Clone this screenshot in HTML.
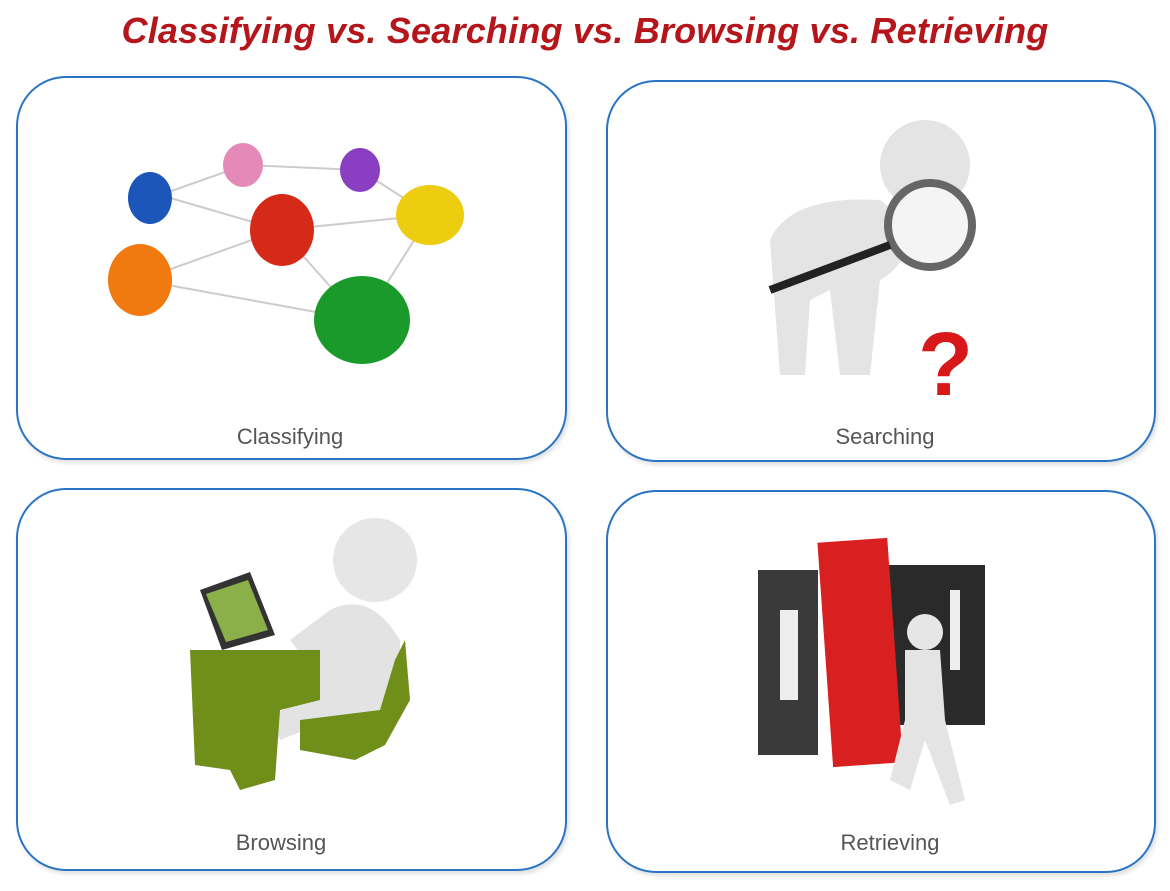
<!DOCTYPE html>
<html><head><meta charset="utf-8"><style>
html,body{margin:0;padding:0;background:#fff;width:1170px;height:891px;overflow:hidden;position:relative;font-family:"Liberation Sans",sans-serif}
.t{position:absolute;left:0;width:1170px;top:10px;text-align:center;color:#b5161b;font-weight:bold;font-style:italic;font-size:36px;letter-spacing:0.2px}
.b{position:absolute;border:2px solid #2a74c4;border-radius:50px;box-sizing:border-box;box-shadow:2px 3px 4px rgba(0,0,0,0.12)}
.l{position:absolute;font-size:22px;color:#555;transform:translateX(-50%);white-space:nowrap}
svg{position:absolute}
</style></head><body>
<div class="t">Classifying vs. Searching vs. Browsing vs. Retrieving</div>
<div class="b" style="left:16px;top:76px;width:551px;height:384px"></div>
<div class="b" style="left:606px;top:80px;width:550px;height:382px"></div>
<div class="b" style="left:16px;top:488px;width:551px;height:383px"></div>
<div class="b" style="left:606px;top:490px;width:550px;height:383px"></div>
<div class="l" style="left:290px;top:424px">Classifying</div>
<div class="l" style="left:885px;top:424px">Searching</div>
<div class="l" style="left:281px;top:830px">Browsing</div>
<div class="l" style="left:890px;top:830px">Retrieving</div>

<svg width="1170" height="891" viewBox="0 0 1170 891">
<g stroke="#ccc" stroke-width="2">
<line x1="160" y1="195" x2="245" y2="165"/><line x1="245" y1="165" x2="360" y2="170"/><line x1="360" y1="170" x2="430" y2="215"/><line x1="160" y1="195" x2="280" y2="230"/><line x1="280" y1="230" x2="430" y2="215"/><line x1="140" y1="280" x2="280" y2="230"/><line x1="140" y1="280" x2="360" y2="320"/><line x1="280" y1="230" x2="360" y2="320"/><line x1="430" y1="215" x2="370" y2="310"/>
</g>
<g>
<ellipse cx="150" cy="198" rx="22" ry="26" fill="#1c56b8"/>
<ellipse cx="243" cy="165" rx="20" ry="22" fill="#e58ab8"/>
<ellipse cx="360" cy="170" rx="20" ry="22" fill="#8a3ec2"/>
<ellipse cx="282" cy="230" rx="32" ry="36" fill="#d52a18"/>
<ellipse cx="430" cy="215" rx="34" ry="30" fill="#eccd10"/>
<ellipse cx="140" cy="280" rx="32" ry="36" fill="#f07a10"/>
<ellipse cx="362" cy="320" rx="48" ry="44" fill="#1a9a2a"/>
</g>
<g fill="#e4e4e4">
<ellipse cx="925" cy="165" rx="45" ry="45"/>
<path d="M770 240 Q790 195 880 200 L920 230 Q900 270 880 280 L870 375 L840 375 L830 290 L810 300 L805 375 L780 375 Z"/>
<circle cx="930" cy="225" r="42" fill="#f4f4f4" stroke="#666" stroke-width="8"/>
<line x1="770" y1="290" x2="890" y2="245" stroke="#222" stroke-width="8"/>
</g>
<text x="918" y="395" font-size="90" font-weight="bold" fill="#d81818" font-family="Liberation Sans">?</text>
<g>
<circle cx="375" cy="560" r="42" fill="#e6e6e6"/>
<path d="M330 610 Q370 590 400 640 L400 700 Q380 730 330 720 L280 740 L270 720 L320 680 L290 640 Z" fill="#e3e3e3"/>
<path d="M190 650 L320 650 L320 700 L280 710 L275 780 L240 790 L230 770 L195 765 Z" fill="#6f8e1a"/>
<path d="M300 720 L380 710 L395 660 L405 640 L410 700 L385 745 L355 760 L300 750 Z" fill="#6f8e1a"/>
<path d="M200 590 L250 572 L275 635 L222 650 Z" fill="#333"/>
<path d="M206 594 L248 580 L268 630 L226 642 Z" fill="#8bb04a"/>
</g>
<g>
<rect x="758" y="570" width="60" height="185" fill="#3a3a3a"/>
<rect x="880" y="565" width="105" height="160" fill="#2a2a2a"/>
<rect x="825" y="540" width="70" height="225" fill="#d82020" transform="rotate(-4 860 650)"/>
<rect x="780" y="610" width="18" height="90" fill="#eee"/>
<rect x="950" y="590" width="10" height="80" fill="#eee"/>
<circle cx="925" cy="632" r="18" fill="#e6e6e6"/>
<path d="M905 650 L940 650 L945 720 L965 800 L950 805 L925 740 L910 790 L890 780 L905 720 Z" fill="#e4e4e4"/>
</g>
</svg>
</body></html>
